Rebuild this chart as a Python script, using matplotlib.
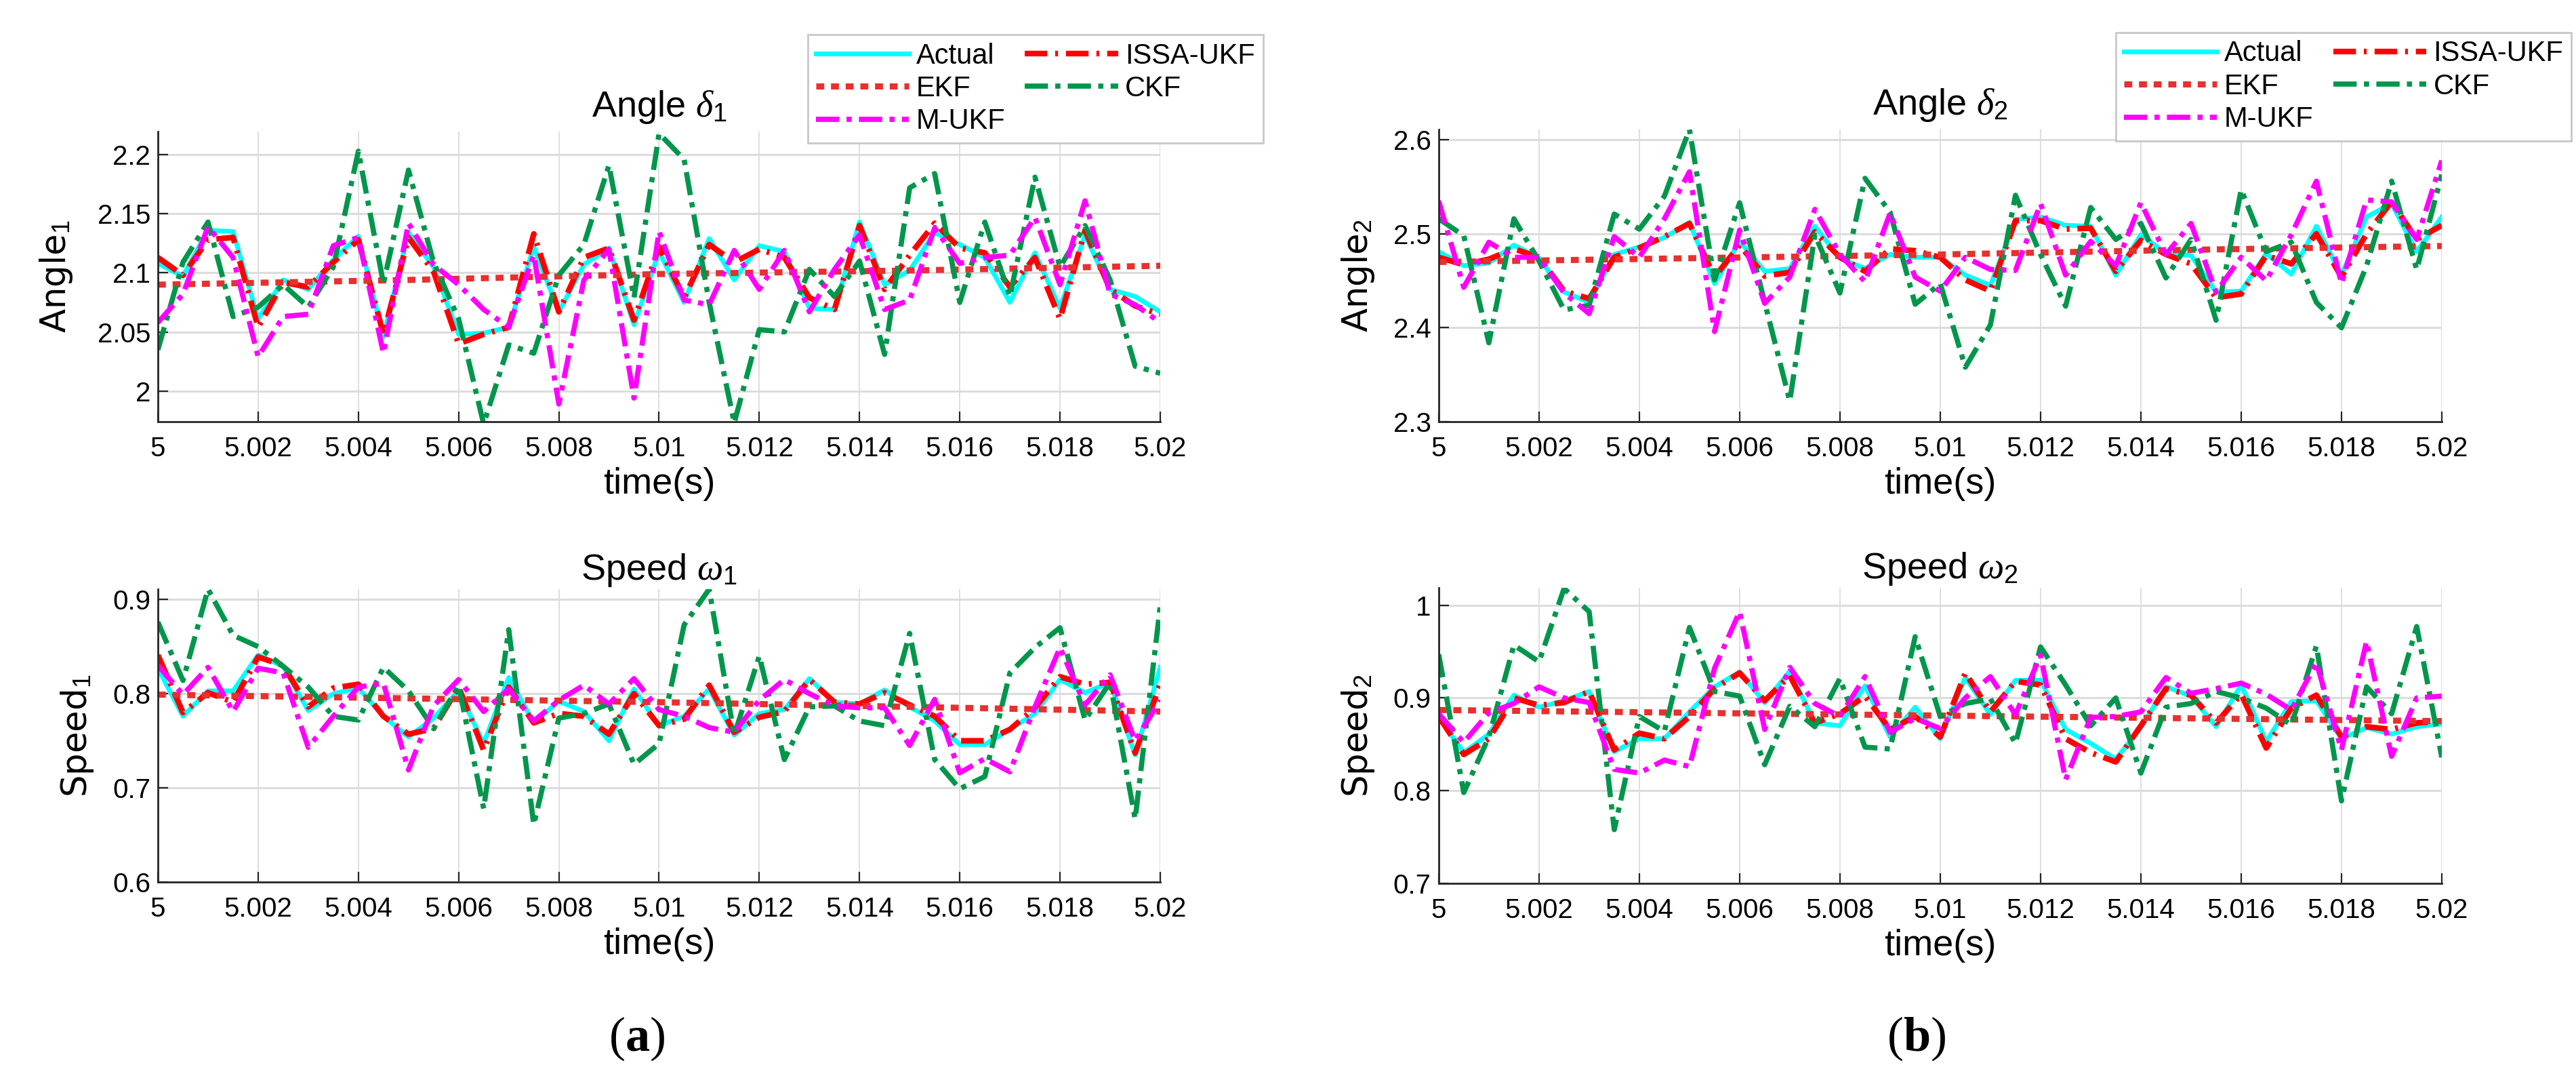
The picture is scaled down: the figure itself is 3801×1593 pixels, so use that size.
import matplotlib
matplotlib.use('Agg')
import matplotlib.pyplot as plt
from matplotlib.ticker import FuncFormatter, MultipleLocator

# Default params of the plots
plt.rcParams['font.family'] = ['Liberation Sans', 'DejaVu Sans']
plt.rcParams['mathtext.fontset'] = 'custom'
plt.rcParams['mathtext.rm'] = 'Liberation Sans'
plt.rcParams['mathtext.it'] = 'Liberation Serif:italic'
plt.rcParams['mathtext.bf'] = 'Liberation Serif:bold'

# sample times (s)
t = [5.0000, 5.0005, 5.0010, 5.0015, 5.0020, 5.0025, 5.0030, 5.0035, 5.0040, 5.0045,
     5.0050, 5.0055, 5.0060, 5.0065, 5.0070, 5.0075, 5.0080, 5.0085, 5.0090, 5.0095,
     5.0100, 5.0105, 5.0110, 5.0115, 5.0120, 5.0125, 5.0130, 5.0135, 5.0140, 5.0145,
     5.0150, 5.0155, 5.0160, 5.0165, 5.0170, 5.0175, 5.0180, 5.0185, 5.0190, 5.0195,
     5.0200]
t_ekf = [5.000, 5.005, 5.010, 5.015, 5.020]

# angle delta_1
a1_actual = [2.108, 2.097, 2.136, 2.135, 2.061, 2.094, 2.086, 2.111, 2.131, 2.046,
             2.134, 2.105, 2.048, 2.049, 2.054, 2.122, 2.067, 2.107, 2.121, 2.056,
             2.118, 2.075, 2.129, 2.094, 2.123, 2.118, 2.070, 2.069, 2.143, 2.090,
             2.102, 2.134, 2.124, 2.113, 2.075, 2.117, 2.070, 2.132, 2.086, 2.080,
             2.067]
a1_issa = [2.113, 2.098, 2.128, 2.130, 2.054, 2.092, 2.088, 2.109, 2.128, 2.048,
           2.130, 2.101, 2.040, 2.048, 2.054, 2.133, 2.067, 2.113, 2.121, 2.060,
           2.122, 2.079, 2.124, 2.109, 2.120, 2.113, 2.079, 2.069, 2.140, 2.086,
           2.115, 2.142, 2.121, 2.117, 2.088, 2.113, 2.061, 2.136, 2.086, 2.072,
           2.065]
a1_ckf = [2.035, 2.109, 2.143, 2.063, 2.071, 2.090, 2.071, 2.105, 2.203, 2.091,
          2.187, 2.109, 2.061, 1.972, 2.039, 2.032, 2.098, 2.124, 2.191, 2.079,
          2.218, 2.196, 2.075, 1.973, 2.052, 2.050, 2.103, 2.080, 2.110, 2.031,
          2.172, 2.184, 2.075, 2.143, 2.080, 2.181, 2.105, 2.140, 2.094, 2.021,
          2.015]
a1_mukf = [2.058, 2.082, 2.139, 2.113, 2.029, 2.063, 2.065, 2.123, 2.130, 2.032,
           2.142, 2.107, 2.090, 2.069, 2.054, 2.115, 1.989, 2.094, 2.120, 1.994,
           2.135, 2.077, 2.073, 2.119, 2.086, 2.119, 2.067, 2.103, 2.132, 2.069,
           2.077, 2.138, 2.108, 2.113, 2.115, 2.147, 2.090, 2.161, 2.082, 2.073,
           2.058]
a1_ekf = [2.090, 2.094, 2.099, 2.102, 2.106]

# angle delta_2
a2_actual = [2.481, 2.466, 2.469, 2.488, 2.474, 2.438, 2.427, 2.478, 2.486, 2.496,
             2.512, 2.447, 2.492, 2.460, 2.463, 2.508, 2.474, 2.463, 2.478, 2.475,
             2.475, 2.456, 2.445, 2.515, 2.518, 2.509, 2.508, 2.456, 2.499, 2.479,
             2.477, 2.438, 2.439, 2.479, 2.457, 2.508, 2.456, 2.518, 2.532, 2.481,
             2.518]
a2_issa = [2.475, 2.467, 2.473, 2.484, 2.475, 2.439, 2.431, 2.475, 2.485, 2.497,
           2.511, 2.454, 2.488, 2.455, 2.459, 2.502, 2.475, 2.460, 2.484, 2.482,
           2.475, 2.451, 2.439, 2.514, 2.514, 2.505, 2.506, 2.460, 2.493, 2.478,
           2.468, 2.432, 2.436, 2.477, 2.468, 2.500, 2.454, 2.500, 2.534, 2.494,
           2.509]
a2_ckf = [2.516, 2.498, 2.384, 2.516, 2.471, 2.419, 2.424, 2.521, 2.505, 2.540,
          2.611, 2.451, 2.533, 2.427, 2.322, 2.499, 2.437, 2.559, 2.523, 2.425,
          2.447, 2.358, 2.403, 2.541, 2.478, 2.423, 2.528, 2.494, 2.511, 2.453,
          2.494, 2.408, 2.547, 2.481, 2.491, 2.427, 2.400, 2.466, 2.556, 2.462,
          2.563]
a2_mukf = [2.535, 2.443, 2.491, 2.475, 2.475, 2.437, 2.415, 2.497, 2.475, 2.516,
           2.566, 2.396, 2.504, 2.426, 2.454, 2.526, 2.478, 2.449, 2.522, 2.454,
           2.439, 2.475, 2.462, 2.461, 2.532, 2.456, 2.492, 2.466, 2.533, 2.478,
           2.511, 2.438, 2.475, 2.450, 2.499, 2.556, 2.447, 2.536, 2.534, 2.494,
           2.578]
a2_ekf = [2.470, 2.474, 2.478, 2.483, 2.487]

# speed omega_1
s1_actual = [0.827, 0.776, 0.803, 0.803, 0.841, 0.829, 0.782, 0.800, 0.806, 0.776,
             0.754, 0.774, 0.803, 0.747, 0.817, 0.769, 0.792, 0.781, 0.750, 0.805,
             0.766, 0.776, 0.805, 0.756, 0.779, 0.783, 0.816, 0.791, 0.789, 0.804,
             0.786, 0.771, 0.746, 0.746, 0.762, 0.779, 0.815, 0.801, 0.812, 0.735,
             0.828]
s1_issa = [0.841, 0.780, 0.801, 0.791, 0.839, 0.830, 0.786, 0.806, 0.810, 0.776,
           0.757, 0.763, 0.807, 0.740, 0.807, 0.769, 0.779, 0.776, 0.757, 0.800,
           0.766, 0.773, 0.809, 0.759, 0.775, 0.781, 0.815, 0.791, 0.789, 0.801,
           0.788, 0.776, 0.750, 0.750, 0.762, 0.785, 0.818, 0.810, 0.812, 0.737,
           0.810]
s1_ckf = [0.876, 0.814, 0.911, 0.862, 0.850, 0.829, 0.807, 0.776, 0.772, 0.828,
          0.803, 0.763, 0.809, 0.678, 0.868, 0.661, 0.774, 0.779, 0.789, 0.725,
          0.747, 0.873, 0.911, 0.756, 0.840, 0.730, 0.786, 0.787, 0.771, 0.766,
          0.864, 0.730, 0.699, 0.712, 0.822, 0.849, 0.870, 0.772, 0.812, 0.667,
          0.893]
s1_mukf = [0.830, 0.799, 0.828, 0.781, 0.827, 0.822, 0.743, 0.776, 0.807, 0.811,
           0.719, 0.787, 0.815, 0.781, 0.805, 0.771, 0.793, 0.809, 0.789, 0.816,
           0.783, 0.776, 0.764, 0.759, 0.793, 0.815, 0.800, 0.787, 0.785, 0.785,
           0.745, 0.794, 0.716, 0.731, 0.717, 0.786, 0.849, 0.788, 0.820, 0.750,
           0.793]
s1_ekf = [0.799, 0.795, 0.791, 0.786, 0.781]

# speed omega_2
s2_actual = [0.879, 0.841, 0.861, 0.903, 0.890, 0.897, 0.907, 0.842, 0.856, 0.856,
             0.885, 0.912, 0.928, 0.895, 0.929, 0.873, 0.870, 0.913, 0.858, 0.890,
             0.856, 0.922, 0.882, 0.919, 0.919, 0.866, 0.851, 0.834, 0.868, 0.912,
             0.902, 0.869, 0.914, 0.853, 0.896, 0.897, 0.856, 0.868, 0.861, 0.869,
             0.872]
s2_issa = [0.880, 0.839, 0.856, 0.900, 0.892, 0.895, 0.907, 0.844, 0.862, 0.856,
           0.880, 0.910, 0.927, 0.897, 0.924, 0.873, 0.883, 0.902, 0.866, 0.880,
           0.858, 0.927, 0.885, 0.918, 0.914, 0.856, 0.841, 0.831, 0.870, 0.910,
           0.903, 0.873, 0.904, 0.846, 0.889, 0.903, 0.858, 0.869, 0.866, 0.873,
           0.875]
s2_ckf = [0.947, 0.798, 0.858, 0.957, 0.939, 1.018, 0.993, 0.758, 0.880, 0.864,
          0.976, 0.907, 0.902, 0.828, 0.891, 0.869, 0.921, 0.847, 0.845, 0.966,
          0.880, 0.894, 0.899, 0.851, 0.955, 0.914, 0.870, 0.900, 0.819, 0.890,
          0.894, 0.907, 0.900, 0.889, 0.871, 0.956, 0.789, 0.912, 0.883, 0.977,
          0.836]
s2_mukf = [0.883, 0.852, 0.884, 0.894, 0.912, 0.900, 0.895, 0.823, 0.819, 0.833,
           0.826, 0.932, 0.993, 0.866, 0.933, 0.894, 0.880, 0.923, 0.863, 0.878,
           0.867, 0.900, 0.923, 0.882, 0.946, 0.812, 0.879, 0.880, 0.885, 0.922,
           0.905, 0.910, 0.916, 0.904, 0.887, 0.938, 0.844, 0.961, 0.837, 0.900,
           0.902]
s2_ekf = [0.887, 0.884, 0.881, 0.878, 0.875]

panels = [
    # rect, title, ylabel, series, ylim, ytick step, ylabel x, title pad
    ([0.0613, 0.6095, 0.3891, 0.2687], r'Angle $\delta_1$', r'Angle$_1$',
     (a1_actual, a1_issa, a1_ekf, a1_ckf, a1_mukf), (1.974, 2.2196), 0.05, -0.083, 16),
    ([0.5585, 0.6095, 0.3894, 0.2706], r'Angle $\delta_2$', r'Angle$_2$',
     (a2_actual, a2_issa, a2_ekf, a2_ckf, a2_mukf), (2.3, 2.611), 0.1, -0.062, 16),
    ([0.0613, 0.1833, 0.3891, 0.2712], r'Speed $\omega_1$', r'Speed$_1$',
     (s1_actual, s1_issa, s1_ekf, s1_ckf, s1_mukf), (0.6, 0.911), 0.1, -0.062, 10),
    ([0.5585, 0.1820, 0.3894, 0.2737], r'Speed $\omega_2$', r'Speed$_2$',
     (s2_actual, s2_issa, s2_ekf, s2_ckf, s2_mukf), (0.7, 1.0187), 0.1, -0.062, 10),
]

fig = plt.figure(figsize=(38.01, 15.93), dpi=100)
legend_handles = []

for rect, title, ylab, (act, issa, ekf, ckf, mukf), ylim, ystep, ylx, tpad in panels:
    ax = fig.add_axes(rect)
    h_act, = ax.plot(t, act, color='#00ffff', lw=5.0, ls='-', label='Actual')
    h_issa, = ax.plot(t, issa, color='#ff0000', lw=6.0, ls=(0, (4.0, 1.4, 0.5, 1.4)), label='ISSA-UKF')
    h_ekf, = ax.plot(t_ekf, ekf, color='#e8302e', lw=6.5, ls=(0, (1.3, 1.1)), label='EKF')
    h_ckf, = ax.plot(t, ckf, color='#00964b', lw=5.5, ls=(0, (4.5, 1.4, 1.0, 1.4)), label='CKF')
    h_mukf, = ax.plot(t, mukf, color='#ff00ff', lw=5.5, ls=(0, (4.5, 1.4, 1.0, 1.4)), label='M-UKF')
    legend_handles.append([h_act, h_ekf, h_mukf, h_issa, h_ckf])

    ax.set_xlim(5.0, 5.02)
    ax.set_ylim(*ylim)
    ax.xaxis.set_major_locator(MultipleLocator(0.002))
    ax.yaxis.set_major_locator(MultipleLocator(ystep))
    ax.xaxis.set_major_formatter(FuncFormatter(lambda v, p: '%g' % round(v, 4)))
    ax.yaxis.set_major_formatter(FuncFormatter(lambda v, p: '%g' % round(v, 4)))
    ax.grid(True, axis='x', color='#dcdcdc', lw=1.3)
    ax.grid(True, axis='y', color='#dcdcdc', lw=2.2)
    ax.set_axisbelow(True)
    for side in ['top', 'right']:
        ax.spines[side].set_visible(False)
    for side in ['left', 'bottom']:
        ax.spines[side].set_linewidth(2.0)
        ax.spines[side].set_color('#262626')
    ax.tick_params(direction='in', length=11, width=1.6, colors='#262626',
                   labelsize=29, labelcolor='black')
    ax.tick_params(axis='x', pad=15)
    ax.tick_params(axis='y', pad=8)
    ax.set_title(title, fontsize=39, pad=tpad)
    ax.set_xlabel('time(s)', fontsize=39, labelpad=6)
    ax.set_ylabel(ylab, fontsize=37, family='DejaVu Sans')
    ax.yaxis.set_label_coords(ylx, 0.5)

leg_style = dict(ncol=2, fontsize=30, frameon=True, fancybox=False, framealpha=1,
                 edgecolor='#c8c8c8', handlelength=3.3, handletextpad=0.25,
                 columnspacing=0.7, labelspacing=0.2, borderpad=0.28, borderaxespad=0)
lg1 = fig.legend(handles=legend_handles[0], loc='upper left',
                 bbox_to_anchor=(0.3136, 0.968), **leg_style)
lg1.get_frame().set_linewidth(2.0)
lg2 = fig.legend(handles=legend_handles[1], loc='upper left',
                 bbox_to_anchor=(0.8214, 0.970), **leg_style)
lg2.get_frame().set_linewidth(2.0)

fig.text(940 / 3801, 1 - 1532 / 1593, r'($\mathbf{a}$)', fontsize=52,
         family='Liberation Serif', ha='center', va='center')
fig.text(2828 / 3801, 1 - 1532 / 1593, r'($\mathbf{b}$)', fontsize=52,
         family='Liberation Serif', ha='center', va='center')

fig.savefig('out.png', dpi=100)
